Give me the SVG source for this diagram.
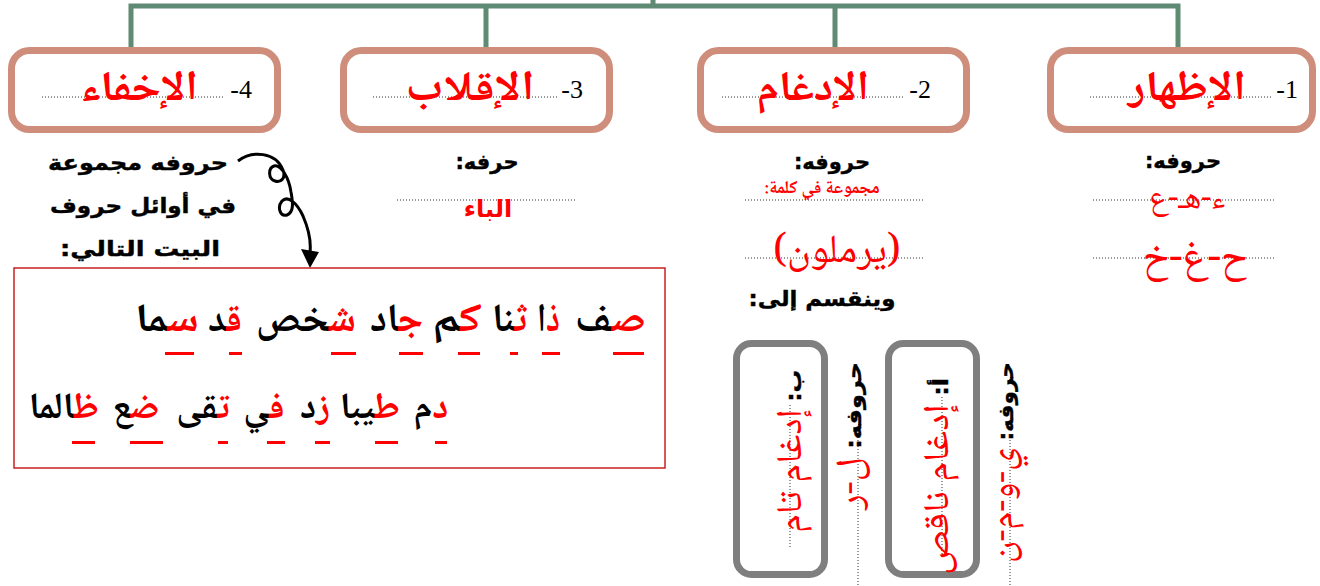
<svg xmlns="http://www.w3.org/2000/svg" width="1320" height="586" viewBox="0 0 1320 586">
<defs>
<style>
.box{fill:#fff;stroke:#cf8e7c;stroke-width:7}
.gbox{fill:#fff;stroke:#7f7f7f;stroke-width:7}
.conn{fill:none;stroke:#5f8a73;stroke-width:5}
.dot{stroke:#333;stroke-width:1;stroke-dasharray:1 2}
.num{font-family:"Liberation Serif",serif;font-size:26px;fill:#000}
.ar{direction:rtl;text-anchor:middle}
.title{font-family:"Noto Naskh Arabic","Amiri","DejaVu Sans",sans-serif;font-weight:bold;font-size:42px;fill:#ff0000}
.kufi{font-family:"DejaVu Sans",sans-serif;font-weight:bold;font-size:21px;fill:#000;stroke:#000;stroke-width:0.4}
.kred{font-family:"DejaVu Sans",sans-serif;font-weight:bold;font-size:24px;fill:#ff0000}
.naskh{font-family:"Noto Naskh Arabic","Amiri","DejaVu Sans",sans-serif;fill:#ff0000}
.poem{font-family:"Noto Naskh Arabic","Amiri","DejaVu Sans",sans-serif;font-weight:bold;font-size:40px;fill:#000;direction:rtl;text-anchor:middle}
.p2{font-size:37px}
.r{fill:#ff0000}
.ul{fill:#ff0000}
</style>
</defs>
<g id="connectors">
<path class="conn" d="M653,0 V6 M131,48 V6 H1178 V48 M486,6 V48 M835,6 V48"/>
<path d="M238,161 C252,150 276,152 283,170 C286,178 281,183 275,181 C268,179 268,168 274,166 C281,164 289,178 291,192 C293,203 294,212 287,215 C280,217 277,207 282,201 C288,195 297,203 303,216 C309,230 311,243 310,252" fill="none" stroke="#000" stroke-width="3"/>
<polygon points="301,249 319,252 310,268" fill="#000"/>
</g>
<g id="node-ikhfa">
<rect class="box" x="11.5" y="50.5" width="266" height="79" rx="18"/>
<line class="dot" x1="42" y1="97" x2="225" y2="97"/>
<text class="title ar" x="139" y="100" textLength="118" lengthAdjust="spacingAndGlyphs">الإخفاء</text>
<text class="num" x="252" y="98" direction="rtl" text-anchor="start">4-</text>
</g>
<g id="node-iqlab">
<rect class="box" x="343.5" y="50.5" width="266" height="79" rx="18"/>
<line class="dot" x1="373" y1="97" x2="557" y2="97"/>
<text class="title ar" x="470" y="100" textLength="129" lengthAdjust="spacingAndGlyphs">الإقلاب</text>
<text class="num" x="583" y="98" direction="rtl" text-anchor="start">3-</text>
</g>
<g id="node-idgham">
<rect class="box" x="700.5" y="50.5" width="266" height="79" rx="18"/>
<line class="dot" x1="722" y1="97" x2="905" y2="97"/>
<text class="title ar" x="813" y="100" textLength="112" lengthAdjust="spacingAndGlyphs">الإدغام</text>
<text class="num" x="931" y="98" direction="rtl" text-anchor="start">2-</text>
</g>
<g id="node-izhar">
<rect class="box" x="1050.5" y="50.5" width="262" height="79" rx="18"/>
<line class="dot" x1="1090" y1="97" x2="1272" y2="97"/>
<text class="title ar" x="1187" y="100" textLength="118" lengthAdjust="spacingAndGlyphs">الإظهار</text>
<text class="num" x="1298" y="98" direction="rtl" text-anchor="start">1-</text>
</g>
<g id="izhar-letters">
<text class="kufi ar" x="1183" y="168">حروفه:</text>
<line class="dot" x1="1093" y1="200" x2="1275" y2="200"/>
<text class="naskh ar" x="1187" y="208" font-size="32">ء-هـ-ع</text>
<line class="dot" x1="1093" y1="258" x2="1275" y2="258"/>
<text class="naskh ar" x="1195" y="270" font-size="42">ح-غ-خ</text>
</g>
<g id="idgham-letters">
<text class="kufi ar" x="832" y="169">حروفه:</text>
<text class="naskh ar" x="822" y="193" font-size="18" font-weight="bold">مجموعة في كلمة:</text>
<line class="dot" x1="745" y1="200" x2="925" y2="200"/>
<line class="dot" x1="745" y1="258" x2="925" y2="258"/>
<text class="naskh ar" x="837" y="262" font-size="40">(يرملون)</text>
<text class="kufi ar" x="822" y="306" font-size="24" textLength="147" lengthAdjust="spacingAndGlyphs">وينقسم إلى:</text>
</g>
<g id="iqlab-letters">
<text class="kufi ar" x="487" y="169">حرفه:</text>
<line class="dot" x1="397" y1="200" x2="577" y2="200"/>
<text class="kred ar" x="488" y="217">الباء</text>
</g>
<g id="ikhfa-letters">
<text class="kufi ar" x="138" y="170" font-size="23" textLength="180" lengthAdjust="spacingAndGlyphs">حروفه  مجموعة</text>
<text class="kufi ar" x="143" y="213" font-size="23" textLength="186" lengthAdjust="spacingAndGlyphs">في أوائل حروف</text>
<text class="kufi ar" x="140" y="256" font-size="23" textLength="160" lengthAdjust="spacingAndGlyphs">البيت التالي:</text>
</g>
<g id="poem">
<rect x="14" y="268" width="651" height="200" fill="#fff" stroke="#c82020" stroke-width="1.5"/>
<text class="poem" x="610.5" y="331" textLength="71" lengthAdjust="spacingAndGlyphs"><tspan class="r">ص</tspan>ف</text>
<text class="poem" x="548.5" y="331" textLength="23" lengthAdjust="spacingAndGlyphs"><tspan class="r">ذ</tspan>ا</text>
<text class="poem" x="509.5" y="331" textLength="35" lengthAdjust="spacingAndGlyphs"><tspan class="r">ث</tspan>نا</text>
<text class="poem" x="457" y="331" textLength="50" lengthAdjust="spacingAndGlyphs"><tspan class="r">ك</tspan>م</text>
<text class="poem" x="396.5" y="331" textLength="53" lengthAdjust="spacingAndGlyphs"><tspan class="r">ج</tspan>اد</text>
<text class="poem" x="306" y="331" textLength="100" lengthAdjust="spacingAndGlyphs"><tspan class="r">ش</tspan>خص</text>
<text class="poem" x="225" y="331" textLength="34" lengthAdjust="spacingAndGlyphs"><tspan class="r">ق</tspan>د</text>
<text class="poem" x="167" y="331" textLength="64" lengthAdjust="spacingAndGlyphs"><tspan class="r">س</tspan>ما</text>
<text class="poem p2" x="431" y="418"><tspan class="r">د</tspan>م</text>
<text class="poem p2" x="370" y="418"><tspan class="r">ط</tspan>يبا</text>
<text class="poem p2" x="315" y="418"><tspan class="r">ز</tspan>د</text>
<text class="poem p2" x="264" y="418"><tspan class="r">ف</tspan>ي</text>
<text class="poem p2" x="203" y="418"><tspan class="r">ت</tspan>قى</text>
<text class="poem p2" x="136" y="418"><tspan class="r">ض</tspan>ع</text>
<text class="poem p2" x="64" y="418"><tspan class="r">ظ</tspan>الما</text>
<g class="ul">
<rect x="613" y="352" width="31" height="3"/>
<rect x="542" y="352" width="18" height="3"/>
<rect x="510" y="352" width="8" height="3"/>
<rect x="458" y="352" width="22" height="3"/>
<rect x="399" y="352" width="24" height="3"/>
<rect x="331" y="352" width="25" height="3"/>
<rect x="229" y="352" width="13" height="3"/>
<rect x="165" y="352" width="29" height="3"/>
<rect x="435" y="441" width="12" height="3"/>
<rect x="375" y="441" width="23" height="3"/>
<rect x="315" y="441" width="15" height="3"/>
<rect x="267" y="441" width="18" height="3"/>
<rect x="218" y="441" width="10" height="3"/>
<rect x="130" y="441" width="33" height="3"/>
<rect x="72" y="441" width="23" height="3"/>
</g>
</g>
<g id="idgham-tam">
<rect class="gbox" x="736.5" y="343.5" width="88" height="231" rx="15"/>
<line class="dot" x1="790" y1="405" x2="790" y2="547"/>
<text class="ar" transform="translate(801,451.5) rotate(-90)" font-size="36" textLength="163" lengthAdjust="spacingAndGlyphs"><tspan class="kufi" font-size="24">ب: </tspan><tspan class="naskh">إدغام تام</tspan></text>
</g>
<g id="idgham-tam-letters">
<line class="dot" x1="858" y1="440" x2="858" y2="586"/>
<text class="ar" transform="translate(861,436) rotate(-90)" font-size="36" textLength="148" lengthAdjust="spacingAndGlyphs"><tspan class="kufi" font-size="24">حروفه: </tspan><tspan class="naskh">ل-ر</tspan></text>
</g>
<g id="idgham-naqis">
<rect class="gbox" x="888.5" y="343.5" width="88" height="231" rx="15"/>
<line class="dot" x1="942" y1="397" x2="942" y2="557"/>
<text class="ar" transform="translate(948,476.5) rotate(-90)" font-size="36" textLength="197" lengthAdjust="spacingAndGlyphs"><tspan class="kufi" font-size="24">أ: </tspan><tspan class="naskh">إدغام ناقص</tspan></text>
</g>
<g id="idgham-naqis-letters">
<line class="dot" x1="1010" y1="440" x2="1010" y2="586"/>
<text class="ar" transform="translate(1013,462.5) rotate(-90)" font-size="36" textLength="201" lengthAdjust="spacingAndGlyphs"><tspan class="kufi" font-size="24">حروفه: </tspan><tspan class="naskh">ي-و-م-ن</tspan></text>
</g>
</svg>
